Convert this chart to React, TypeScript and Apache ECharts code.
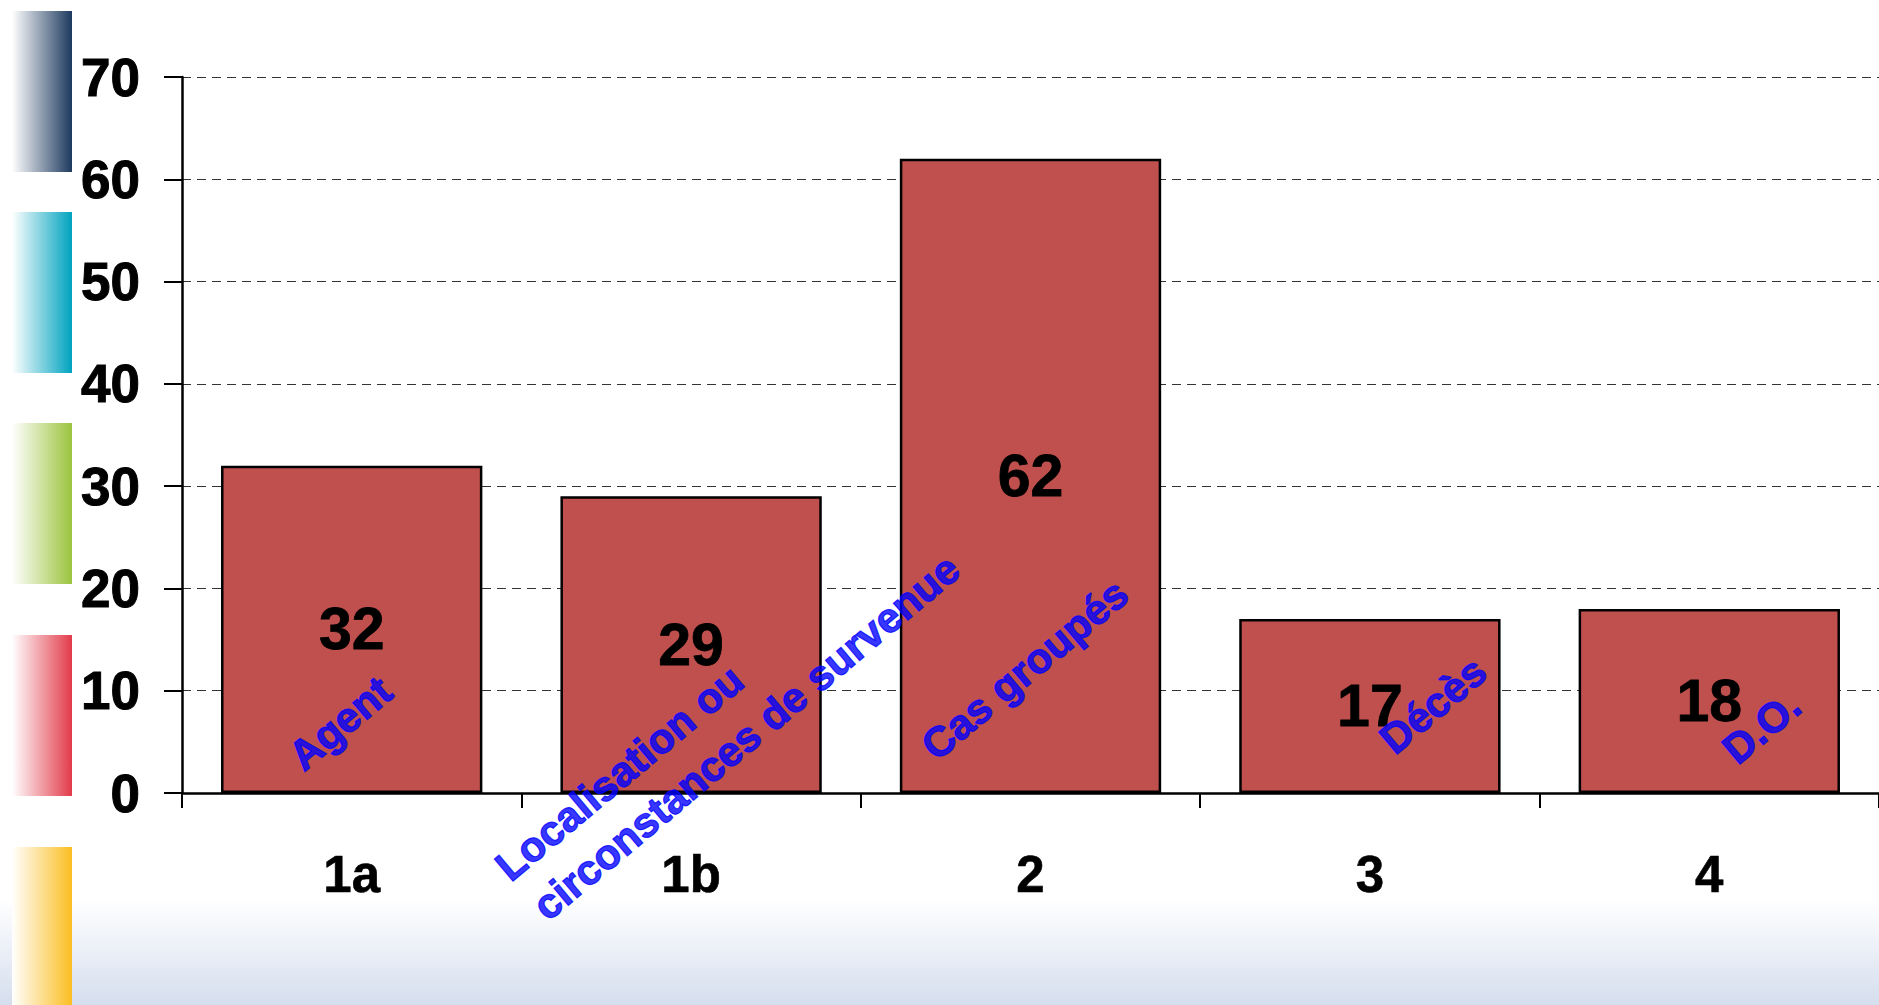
import React, { useEffect, useRef } from "react";
import * as echarts from "echarts";

// ---- data ----
const categories = ["1a", "1b", "2", "3", "4"];
const values = [32, 29, 62, 17, 18];
const yMin = 0;
const yMax = 70;
const yInterval = 10;

// rotated blue annotations (positions in data units: x on a 0..5 category scale, y on value scale)
const annotationTexts = ["Agent", "Localisation ou", "circonstances de survenue", "Cas groupés", "Décès", "D.O."];
const annotationX = [0.466, 1.289, 1.662, 2.483, 3.686, 4.654];
const annotationY = [6.84, 1.96, 5.47, 12.09, 8.6, 6.43];

// decorative strips on the left
const stripColors = ["#1d3a5f", "#00a3bf", "#9cc43e", "#e23b4a", "#fbbe22"];
const stripTops = [11, 212, 423, 635, 847];

const SANS = "'Liberation Sans', Arial, Helvetica, sans-serif";

export default function App() {
  const ref = useRef<HTMLDivElement>(null);

  useEffect(() => {
    if (!ref.current) return;
    const chart = echarts.init(ref.current, undefined, { renderer: "svg" });

    const graphics: any[] = stripColors.map((c, i) => ({
      type: "rect",
      z: -1,
      shape: { x: 12, y: stripTops[i], width: 60, height: 161 },
      style: {
        fill: new echarts.graphic.LinearGradient(0, 0, 1, 0, [
          { offset: 0, color: "#ffffff" },
          { offset: 1, color: c },
        ]),
      },
    }));
    graphics.unshift({
      type: "rect",
      z: -2,
      shape: { x: 0, y: 900, width: 1879, height: 105 },
      style: {
        fill: new echarts.graphic.LinearGradient(0, 0, 0, 1, [
          { offset: 0, color: "#ffffff" },
          { offset: 1, color: "#d5deee" },
        ]),
      },
    });

    chart.setOption({
      animation: false,
      backgroundColor: "#ffffff",
      graphic: graphics,
      grid: { left: 182, right: 0, top: 77, bottom: 212, containLabel: false },
      xAxis: [
        {
          type: "category",
          data: categories,
          axisLine: { show: true, lineStyle: { color: "#000", width: 2.5 } },
          axisTick: { show: true, length: 15, lineStyle: { color: "#000", width: 2 } },
          axisLabel: {
            color: "#000",
            fontSize: 51,
            fontWeight: "bold",
            fontFamily: SANS,
            margin: 56,
            textBorderColor: "#000",
            textBorderWidth: 0.6,
          },
          splitLine: { show: false },
        },
        {
          type: "value",
          min: 0,
          max: 5,
          show: false,
          gridIndex: 0,
        },
      ],
      yAxis: {
        type: "value",
        min: yMin,
        max: yMax,
        interval: yInterval,
        axisLine: { show: true, lineStyle: { color: "#000", width: 2.5 } },
        axisTick: { show: true, length: 18, lineStyle: { color: "#000", width: 2 } },
        axisLabel: {
          color: "#000",
          fontSize: 53,
          fontWeight: "bold",
          fontFamily: SANS,
          margin: 42,
          textBorderColor: "#000",
          textBorderWidth: 1,
        },
        splitLine: { show: true, lineStyle: { color: "#333", width: 1.2, type: [9, 6] } },
      },
      series: [
        {
          type: "bar",
          data: values,
          barWidth: "77%",
          itemStyle: { color: "#c0504d", borderColor: "#000", borderWidth: 2.5 },
          label: {
            show: true,
            position: "inside",
            color: "#000",
            fontSize: 59,
            fontWeight: "bold",
            fontFamily: SANS,
            textBorderColor: "#000",
            textBorderWidth: 0.8,
          },
          silent: true,
        },
        {
          type: "scatter",
          xAxisIndex: 1,
          symbolSize: 0,
          clip: false,
          silent: true,
          z: 5,
          data: annotationTexts.map((t, i) => [annotationX[i], annotationY[i], t]),
          label: {
            show: true,
            position: "inside",
            formatter: (p: any) => p.data[2],
            rotate: 40,
            align: "center",
            verticalAlign: "middle",
            color: "#0000ff",
            fontSize: 42,
            fontWeight: "bold",
            fontFamily: SANS,
            textBorderColor: "#0000ff",
            textBorderWidth: 1.2,
          },
        },
      ],
    });

    return () => chart.dispose();
  }, []);

  return (
    <div
      ref={ref}
      style={{ position: "absolute", left: 0, top: 0, width: 1879, height: 1005, background: "#fff" }}
    />
  );
}
